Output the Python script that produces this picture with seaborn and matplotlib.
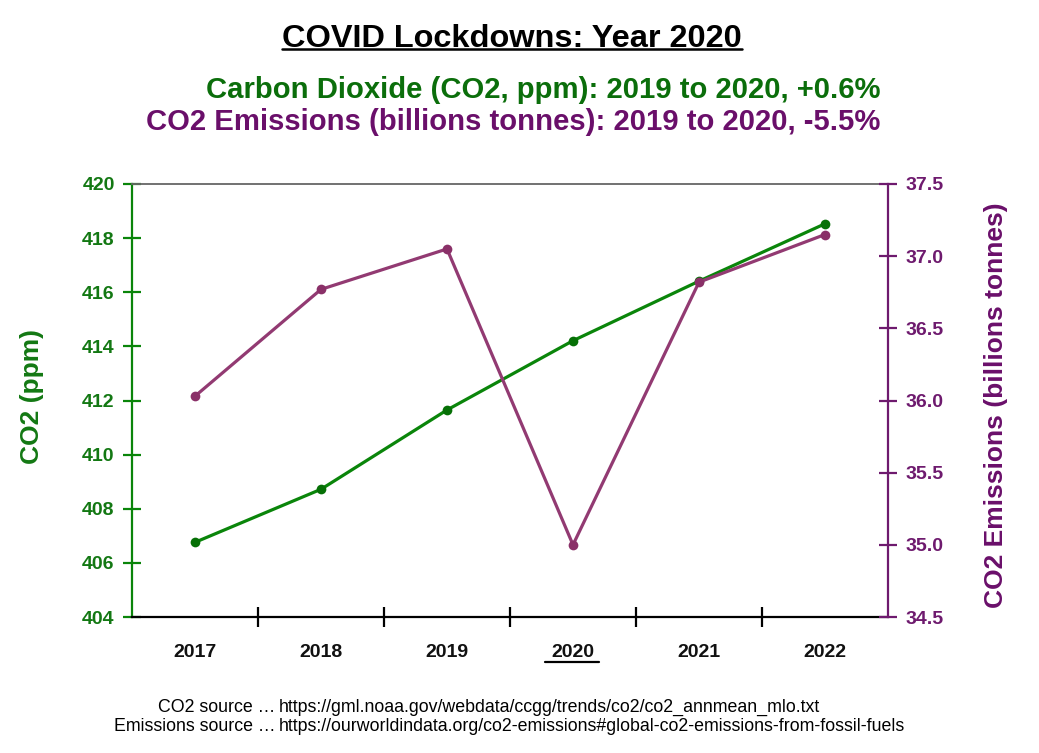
import numpy as np
import pandas as pd
import matplotlib
matplotlib.use("Agg")
import matplotlib.pyplot as plt
import seaborn as sns
from matplotlib.lines import Line2D

# ---- data ----
years = ["2017", "2018", "2019", "2020", "2021", "2022"]
co2_ppm = [406.76, 408.72, 411.65, 414.21, 416.41, 418.53]
emissions_bt = [36.03, 36.77, 37.05, 35.00, 36.82, 37.15]
left_ticks = [404, 406, 408, 410, 412, 414, 416, 418, 420]
right_ticks = [34.5, 35.0, 35.5, 36.0, 36.5, 37.0, 37.5]

title = "COVID Lockdowns: Year 2020"
sub1 = "Carbon Dioxide (CO2, ppm): 2019 to 2020, +0.6%"
sub2 = "CO2 Emissions (billions tonnes): 2019 to 2020, -5.5%"
src_labels = ["CO2 source \u2026", "Emissions source \u2026"]
src_urls = ["https://gml.noaa.gov/webdata/ccgg/trends/co2/co2_annmean_mlo.txt",
            "https://ourworldindata.org/co2-emissions#global-co2-emissions-from-fossil-fuels"]

# ---- colours ----
green_line = "#0a850a"
green_mark = "#067006"
green_text = "#137813"
purple_line = "#923a72"
purple_mark = "#8a3068"
purple_text = "#6a0f6a"
purple_axis = "#6e1a6e"

sns.set_theme(style="white")
plt.rcParams['font.family'] = ['Liberation Sans', 'DejaVu Sans']

W, H = 1039, 753
fig = plt.figure(figsize=(W / 100, H / 100), dpi=100)
fig.patch.set_facecolor("white")

L, R, T, B = 132, 888, 184, 617
ax = fig.add_axes([L / W, 1 - B / H, (R - L) / W, (B - T) / H])
ax2 = ax.twinx()

df = pd.DataFrame({"year": years, "co2": co2_ppm, "em": emissions_bt})

sns.lineplot(data=df, x="year", y="co2", ax=ax, color=green_line, lw=2.3,
             marker="o", markersize=7, markerfacecolor=green_mark,
             markeredgecolor=green_mark, markeredgewidth=0, sort=False)
sns.lineplot(data=df, x="year", y="em", ax=ax2, color=purple_line, lw=2.3,
             marker="o", markersize=7, markerfacecolor=purple_mark,
             markeredgecolor=purple_mark, markeredgewidth=0, sort=False)

ax.set_xlim(-0.5, 5.5)
ax.set_ylim(404, 420)
ax2.set_ylim(34.5, 37.5)

ax.set_xticks(range(len(years)))
ax.set_xticklabels(years, fontsize=14, fontweight="bold", color="#111111")
ax.set_xticks([i + 0.5 for i in range(len(years) - 1)], minor=True)
ax.tick_params(axis="x", which="major", length=0, pad=19.5)
ax.tick_params(axis="x", which="minor", direction="inout", length=15,
               width=1.6, color="black", bottom=True)

ax.set_yticks(left_ticks)
ax.set_yticklabels([str(v) for v in left_ticks], fontsize=14,
                   fontweight="bold", color=green_text)
ax.tick_params(axis="y", which="major", direction="inout", length=13,
               width=1.6, color=green_line, pad=6, left=True)
ax2.set_yticks(right_ticks)
ax2.set_yticklabels([f"{v:.1f}" for v in right_ticks], fontsize=14,
                    fontweight="bold", color=purple_axis)
ax2.tick_params(axis="y", which="major", direction="inout", length=13,
                width=1.6, color=purple_axis, pad=6, right=True)

for a in (ax, ax2):
    a.grid(False)
ax.spines["left"].set_color(green_line)
ax.spines["left"].set_linewidth(1.6)
ax.spines["bottom"].set_color("black")
ax.spines["bottom"].set_linewidth(1.6)
ax.spines["top"].set_color("#666666")
ax.spines["top"].set_linewidth(1.3)
ax.spines["right"].set_visible(False)
for s in ("left", "top", "bottom"):
    ax2.spines[s].set_visible(False)
ax2.spines["right"].set_color(purple_axis)
ax2.spines["right"].set_linewidth(1.6)

ax.set_xlabel("")
ax.set_ylabel("CO2 (ppm)", fontsize=19, fontweight="bold", color=green_text)
ax2.set_ylabel("CO2 Emissions (billions tonnes)", fontsize=19,
               fontweight="bold", color=purple_text)
ax.yaxis.set_label_coords((32 - L) / (R - L), (B - 396.5) / (B - T))
ax.yaxis.label.set_va("center")
ax2.yaxis.set_label_coords((995.5 - L) / (R - L), (B - 405) / (B - T))
ax2.yaxis.label.set_va("center")

# ---- texts ----
t_title = fig.text(512 / W, 1 - 47 / H, title, ha="center", va="baseline",
                   fontsize=23.4, fontweight="bold", color="black")
fig.text(880 / W, 1 - 98 / H, sub1, ha="right", va="baseline",
         fontsize=21.1, fontweight="bold", color="#0b6e0b")
fig.text(880 / W, 1 - 130 / H, sub2, ha="right", va="baseline",
         fontsize=21.1, fontweight="bold", color=purple_text)

for i, (lab, url) in enumerate(zip(src_labels, src_urls)):
    yb = 1 - (712 + 19 * i) / H
    fig.text(275 / W, yb, lab, ha="right", va="baseline", fontsize=12.8,
             color="black")
    fig.text(279 / W, yb, url, ha="left", va="baseline", fontsize=12.8,
             color="black")

# ---- underlines ----
fig.canvas.draw()
renderer = fig.canvas.get_renderer()
inv = fig.transFigure.inverted()

bb = t_title.get_window_extent(renderer)
(x0, _), (x1, _) = inv.transform([(bb.x0, 0), (bb.x1, 0)])
fig.add_artist(Line2D([x0, x1], [1 - 49 / H, 1 - 49 / H], color="black",
                      lw=1.8, transform=fig.transFigure))

for lbl in ax.get_xticklabels():
    if lbl.get_text() == "2020":
        bb = lbl.get_window_extent(renderer)
        (x0, y0), (x1, _) = inv.transform([(bb.x0 - 7, bb.y0 - 1), (bb.x1 + 4, 0)])
        fig.add_artist(Line2D([x0, x1], [y0, y0],
                              color="black", lw=1.6,
                              transform=fig.transFigure))

fig.savefig("out.png", dpi=100, facecolor="white")
